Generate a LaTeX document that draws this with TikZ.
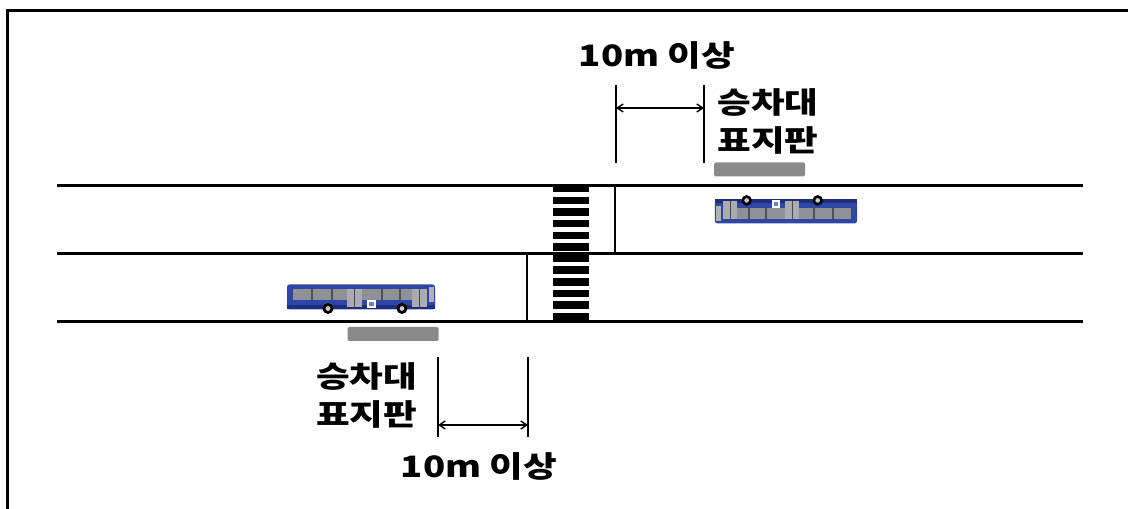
\documentclass[tikz,border=0pt]{standalone}
\usepackage{fontspec}
\usepackage{xcolor}
\usepackage{tikz}
\usetikzlibrary{positioning, arrows.meta, calc}
\newfontfamily\kofont[FakeStretch=1.24]{Noto Sans CJK KR}
\definecolor{busblue}{HTML}{2E47A6}
\definecolor{busdark}{HTML}{1F2E7A}
\definecolor{glass}{HTML}{8F9197}
\definecolor{signgray}{HTML}{8A8A8A}
\tikzset{
  roadline/.style={
    line width=3pt
  },
  stopline/.style={
    line width=2.6pt
  },
  guideline/.style={
    line width=1.3pt
  },
  dimarrow/.style={
    {Straight Barb[length=6pt,width=8pt]}-{Straight Barb[length=6pt,width=8pt]},
    line width=1.4pt
  },
  biglabel/.style={
    font=\kofont\bfseries\fontsize{29.5}{38}\selectfont,
    align=center,
    inner sep=0pt
  },
  signbar/.style={
    rectangle,
    fill=signgray,
    rounded corners=1.5pt,
    minimum width=91pt,
    minimum height=14pt,
    inner sep=0pt
  },
  bus/.pic={
    % body and roof
    \fill[busblue, rounded corners=2.5pt] (-74,-11) rectangle (74,14);
    \fill[busdark] (-74,-11) rectangle (74,-7);
    % window band
    \fill[glass] (-68,-2) rectangle (66,9);
    \foreach \px in {-50,-30,20,38} {
      \fill[glass!55!black] (\px,-2) rectangle ++(2,11);
    }
    % doors
    \fill[glass!75!white] (-14,-9) rectangle (1,9);
    \fill[glass!75!white] (51,-9) rectangle (66,9);
    \draw[glass!50!black, line width=.6pt] (-6.5,-9) -- (-6.5,9) (58.5,-9) -- (58.5,9);
    % windscreen
    \fill[glass!70!white] (68,-4) rectangle (73,11);
    % route sign
    \fill[white] (6,-10) rectangle (15,-2);
    \fill[busblue!70!white] (8,-8) rectangle (13,-4);
    % wheels
    \foreach \wx in {-33,41} {
      \fill[black] (\wx,-10) circle (5.5);
      \fill[gray!40] (\wx,-10) circle (2.4);
    }
  }
}

\begin{document}
\begin{tikzpicture}[x=1pt, y=1pt]
  \useasboundingbox (0,0) rectangle (1128,509);

  % frame
  \coordinate (fbl) at (7,0);
  \coordinate (ftl) at (7,498.5);
  \coordinate (ftr) at (1128,498.5);
  \draw[line width=3pt] (fbl) -- (ftl) -- (ftr);

  % road edges
  \coordinate (r1w) at (57,323);   \coordinate (r1e) at (1083,323);
  \coordinate (r2w) at (57,255);   \coordinate (r2e) at (1083,255);
  \coordinate (r3w) at (57,187);   \coordinate (r3e) at (1083,187);
  \draw[roadline] (r1w) -- (r1e);
  \draw[roadline] (r2w) -- (r2e);
  \draw[roadline] (r3w) -- (r3e);

  % crosswalk
  \foreach \k in {0,...,11} {
    \fill (553,{324-11.64*\k}) rectangle (589,{316.5-11.64*\k});
  }

  % stop lines
  \coordinate (s1t) at (615,323);  \coordinate (s1b) at (615,255);
  \coordinate (s2t) at (527,255);  \coordinate (s2b) at (527,187);
  \draw[stopline] (s1t) -- (s1b);
  \draw[stopline] (s2t) -- (s2b);

  % signs and buses
  \node[signbar] (signup) at (759.5,339.5) {};
  \node[signbar] (signlow) at (393,175) {};
  \pic[rotate=180, scale=0.96] at (786,299) {bus};
  \pic at (361,210.5) {bus};

  \node[biglabel] (txtup) at (768,388) {승차대\\표지판};
  \node[biglabel] (txtlow) at (366.5,114) {승차대\\표지판};

  % distance marks, upper
  \coordinate (ua1) at (616,424);  \coordinate (ua2) at (616,346);
  \coordinate (ub1) at (704,424);  \coordinate (ub2) at (704,346);
  \coordinate (um1) at (616,401);  \coordinate (um2) at (704,401);
  \draw[guideline] (ua1) -- (ua2);
  \draw[guideline] (ub1) -- (ub2);
  \draw[dimarrow] (um1) -- (um2);
  \node[biglabel] (distup) at (657,454) {10m 이상};

  % distance marks, lower
  \coordinate (la1) at (438,152);  \coordinate (la2) at (438,72);
  \coordinate (lb1) at (528,152);  \coordinate (lb2) at (528,72);
  \coordinate (lm1) at (438,84);   \coordinate (lm2) at (528,84);
  \draw[guideline] (la1) -- (la2);
  \draw[guideline] (lb1) -- (lb2);
  \draw[dimarrow] (lm1) -- (lm2);
  \node[biglabel] (distlow) at (479,43) {10m 이상};
\end{tikzpicture}
\end{document}
